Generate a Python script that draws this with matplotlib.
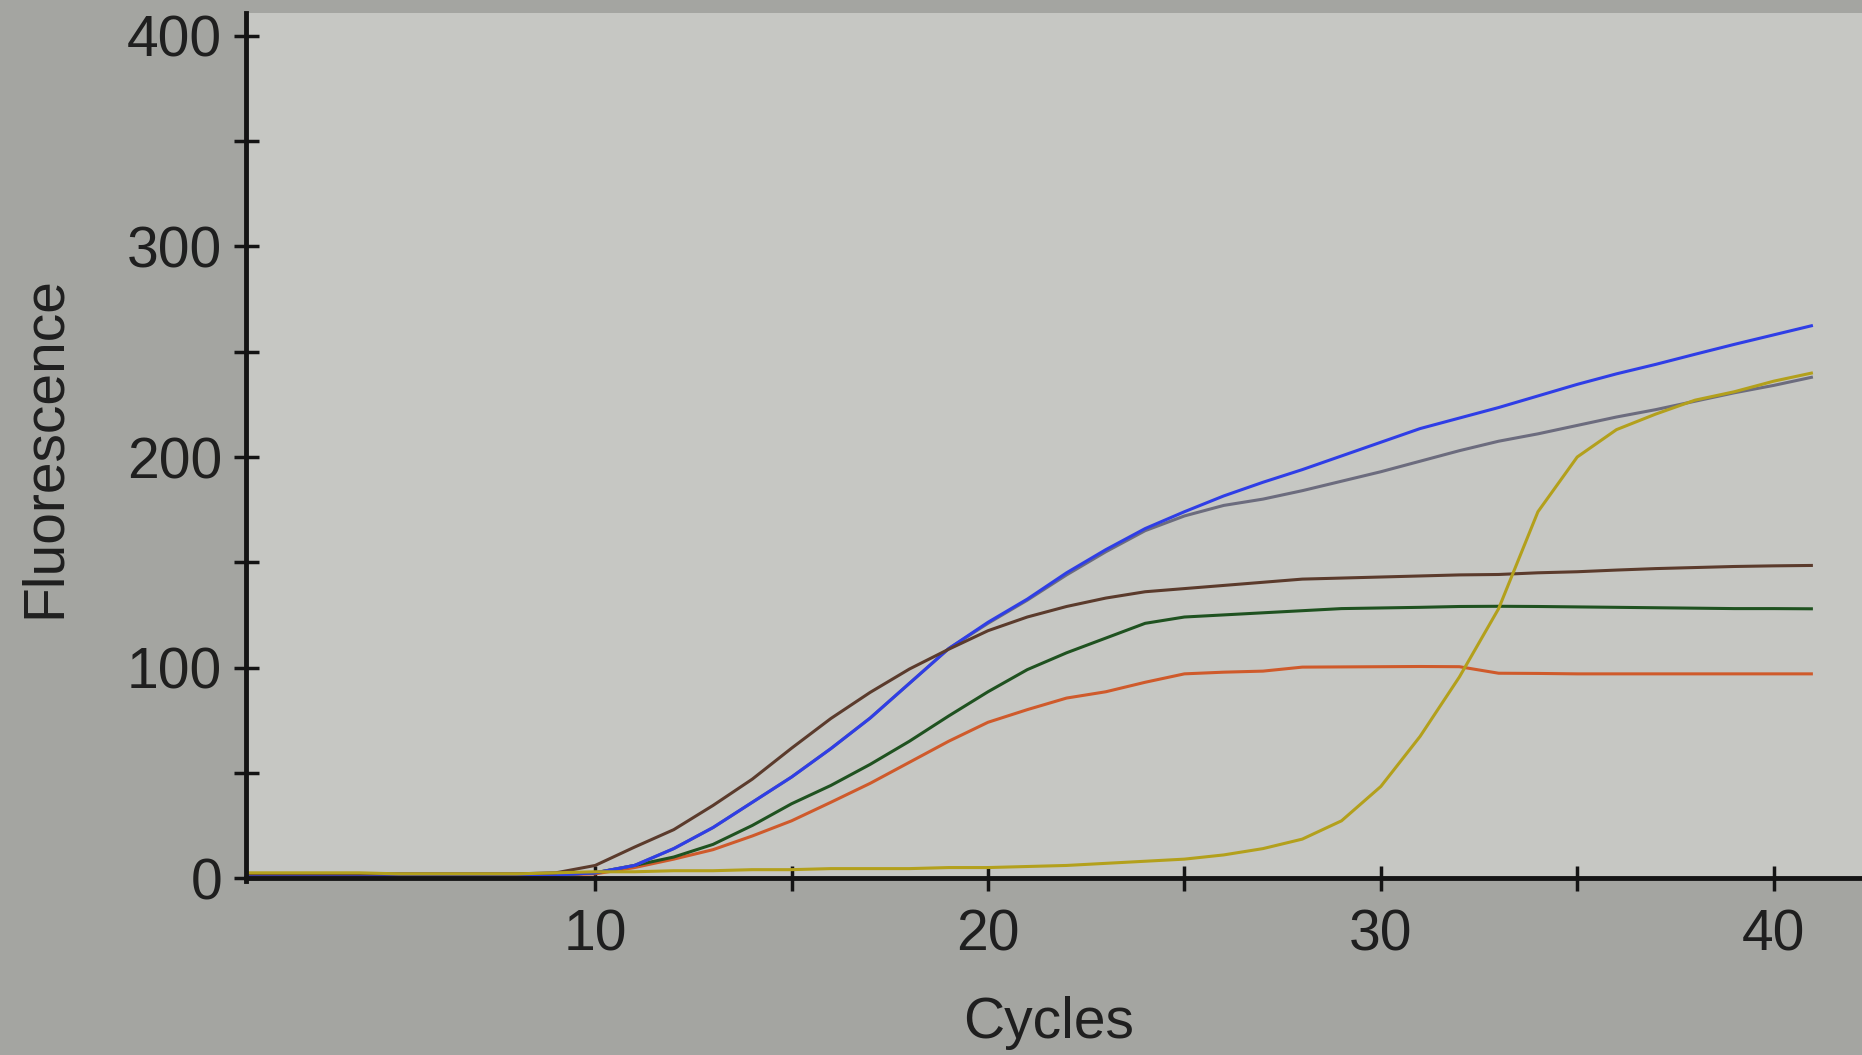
# plot.py
#
# Amplification curves (fluorescence vs. cycle) read off a photo of a
# qPCR instrument screen.
#
import matplotlib
matplotlib.use('Agg')
import matplotlib.pyplot as plt
from matplotlib.ticker import FixedLocator

# Cycle numbers (x)
cycles = list(range(1, 42))

# Fluorescence values per cycle, one list per well
blue = [1.5, 1.5, 1.5, 1.5, 1.5, 1.5, 1.5, 1.5, 1.5, 2.5,
        6, 14, 24, 36, 48, 61.5, 76, 92.5, 109, 121.5,
        132.5, 145, 156, 166, 174, 181.5, 188, 194, 200.5, 207,
        213.5, 218.5, 223.5, 229, 234.5, 239.5, 244, 248.8, 253.5, 258,
        262.5]
gray = [1.5, 1.5, 1.5, 1.5, 1.5, 1.5, 1.5, 1.5, 1.5, 2.5,
        6, 14, 24, 36, 48, 61.5, 76, 92.5, 109, 121,
        132, 144, 155, 165, 172, 177, 180, 184, 188.5, 193,
        198, 203, 207.5, 211, 215, 219, 222.5, 226.5, 230.5, 234,
        238]
brown = [2, 2, 2, 2, 2, 2, 2, 2, 2.5, 6,
         14.7, 23, 34.5, 47, 61.7, 75.8, 88.2, 99.3, 108.7, 117.5,
         124, 129, 133, 136, 137.5, 139, 140.5, 142, 142.5, 143,
         143.5, 144, 144.2, 145, 145.5, 146.3, 147, 147.5, 148, 148.3,
         148.5]
green = [1.5, 1.5, 1.5, 1.5, 1.5, 1.5, 1.5, 1.5, 1.5, 2.5,
         6, 10, 16, 25, 35.3, 44, 54, 65, 77, 88.5,
         99, 107, 114, 121, 124, 125, 126, 127, 128, 128.3,
         128.6, 129, 129.1, 129, 128.8, 128.6, 128.4, 128.2, 128, 128,
         127.9]
orange = [1.5, 1.5, 1.5, 1.5, 1.5, 1.5, 1.5, 1.5, 1.5, 2,
          5, 9, 13.5, 20, 27.2, 36, 45, 55, 65, 74,
          80, 85.5, 88.5, 93, 97, 97.8, 98.3, 100.2, 100.3, 100.4,
          100.5, 100.4, 97.3, 97.2, 97, 97, 97, 97, 97, 97,
          97]
yellow = [2.5, 2.5, 2.5, 2.5, 2, 2, 2, 2, 2.5, 3,
          3, 3.5, 3.5, 4, 4, 4.5, 4.5, 4.5, 5, 5,
          5.5, 6, 7, 8, 9, 11, 14, 18.5, 27.2, 43.5,
          67.3, 95.5, 128, 174, 200, 213, 220.4, 227, 231, 236,
          240]

series = [
    (orange, '#cf5a2b'),
    (green, '#1f5220'),
    (gray, '#6c6c7e'),
    (blue, '#2f3ee6'),
    (brown, '#5b3b2c'),
    (yellow, '#b3a01c'),
]

y_major = [0, 100, 200, 300, 400]
y_minor = [50, 150, 250, 350]
x_major = [10, 20, 30, 40]
x_minor = [15, 25, 35]

plt.rcParams['font.family'] = ['Liberation Sans', 'DejaVu Sans']
text_col = '#1f1f1f'
axis_col = '#141414'

fig = plt.figure(figsize=(18.62, 10.55), dpi=100, facecolor='#a4a5a1')
ax = fig.add_axes([0.1321, 0.1647, 0.8679, 0.8232], facecolor='#c6c7c3')

for vals, col in series:
    ax.plot(cycles, vals, color=col, linewidth=2.2, solid_capstyle='butt')

ax.set_xlim(1.11, 42.25)
ax.set_ylim(-1.5, 411)

# Axis lines: only left and bottom, bottom one sits at y = 0
for side in ['top', 'right']:
    ax.spines[side].set_visible(False)
ax.spines['bottom'].set_position(('data', 0))
for side in ['left', 'bottom']:
    ax.spines[side].set_color(axis_col)
    ax.spines[side].set_linewidth(3.5)

ax.xaxis.set_major_locator(FixedLocator(x_major))
ax.xaxis.set_minor_locator(FixedLocator(x_minor))
ax.yaxis.set_major_locator(FixedLocator(y_major))
ax.yaxis.set_minor_locator(FixedLocator(y_minor))

ax.tick_params(axis='x', which='both', direction='inout', length=18, width=2.5,
               color=axis_col, pad=13, labelsize=41, labelcolor=text_col)
ax.tick_params(axis='y', which='both', direction='inout', length=18, width=2.5,
               color=axis_col, pad=8, labelsize=41, labelcolor=text_col)

# Axis titles placed where they sit on the screen
fig.text(44.5 / 1862, 1 - 447 / 1055, 'Fluorescence', rotation=90,
         ha='center', va='center', fontsize=41, color=text_col)
fig.text(1049 / 1862, 1 - 1023 / 1055, 'Cycles',
         ha='center', va='center', fontsize=41, color=text_col)

fig.savefig('out.png', dpi=100, facecolor=fig.get_facecolor())
